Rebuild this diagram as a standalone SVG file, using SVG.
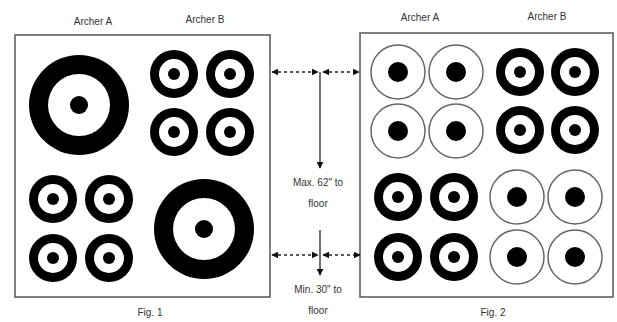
<svg xmlns="http://www.w3.org/2000/svg" width="617" height="322" viewBox="0 0 617 322">
<defs>
<style>
text{font-family:"Liberation Sans",Arial,sans-serif;font-size:10px;fill:#333;text-anchor:middle}
.box{fill:#fff;stroke:#555;stroke-width:1.5}
.ring{fill:#000}
.ringw{fill:#fff}
.thin{fill:#fff;stroke:#666;stroke-width:1.5}
.dash{stroke:#222;stroke-width:1.3;stroke-dasharray:3,3;fill:none}
.solid{stroke:#222;stroke-width:1.3;fill:none}
</style>
<marker id="ah" viewBox="0 0 10 10" refX="9" refY="5" markerWidth="7" markerHeight="7" orient="auto-start-reverse" markerUnits="userSpaceOnUse">
<path d="M0,0 L10,5 L0,10 z" fill="#111"/>
</marker>
<g id="small">
<circle r="24" class="ring"/><circle r="15" class="ringw"/><circle r="6" class="ring"/>
</g>
<g id="big">
<circle r="50" class="ring"/><circle r="31" class="ringw"/><circle r="9" class="ring"/>
</g>
<g id="thinT">
<circle r="27" class="thin"/><circle r="10" class="ring"/>
</g>
</defs>
<rect width="617" height="322" fill="#fff"/>
<g id="fig1">
<rect x="15" y="35" width="255" height="262" class="box"/>
<use href="#big" x="79" y="105"/>
<use href="#small" x="174" y="74"/>
<use href="#small" x="230" y="74"/>
<use href="#small" x="174" y="132"/>
<use href="#small" x="230" y="132"/>
<use href="#small" x="53" y="199"/>
<use href="#small" x="109" y="199"/>
<use href="#small" x="53" y="258"/>
<use href="#small" x="109" y="258"/>
<use href="#big" x="204" y="229"/>
<text x="93" y="25">Archer A</text>
<text x="205" y="23">Archer B</text>
<text x="150" y="316">Fig. 1</text>
</g>
<g id="fig2">
<rect x="360" y="33" width="253" height="264" class="box"/>
<use href="#thinT" x="398" y="72"/>
<use href="#thinT" x="456" y="72"/>
<use href="#thinT" x="398" y="131"/>
<use href="#thinT" x="456" y="131"/>
<use href="#small" x="520" y="72"/>
<use href="#small" x="575" y="72"/>
<use href="#small" x="520" y="130"/>
<use href="#small" x="575" y="130"/>
<use href="#small" x="398" y="197"/>
<use href="#small" x="454" y="197"/>
<use href="#small" x="398" y="257"/>
<use href="#small" x="454" y="257"/>
<use href="#thinT" x="517" y="197"/>
<use href="#thinT" x="575" y="197"/>
<use href="#thinT" x="517" y="257"/>
<use href="#thinT" x="575" y="257"/>
<text x="420" y="21">Archer A</text>
<text x="547" y="20">Archer B</text>
<text x="493" y="316">Fig. 2</text>
</g>
<g id="connectors">
<path d="M272,72 H318" class="dash" marker-start="url(#ah)" marker-end="url(#ah)"/>
<path d="M323,72 H359" class="dash" marker-start="url(#ah)" marker-end="url(#ah)"/>
<path d="M320,72 V168" class="solid" marker-end="url(#ah)"/>
<path d="M272,255 H318" class="dash" marker-start="url(#ah)" marker-end="url(#ah)"/>
<path d="M323,255 H360" class="dash" marker-start="url(#ah)" marker-end="url(#ah)"/>
<path d="M320,230 V275" class="solid" marker-end="url(#ah)"/>
</g>
<g id="labels">
<text x="318" y="186">Max. 62" to</text>
<text x="318" y="207">floor</text>
<text x="318" y="293">Min. 30" to</text>
<text x="318" y="314">floor</text>
</g>
</svg>
